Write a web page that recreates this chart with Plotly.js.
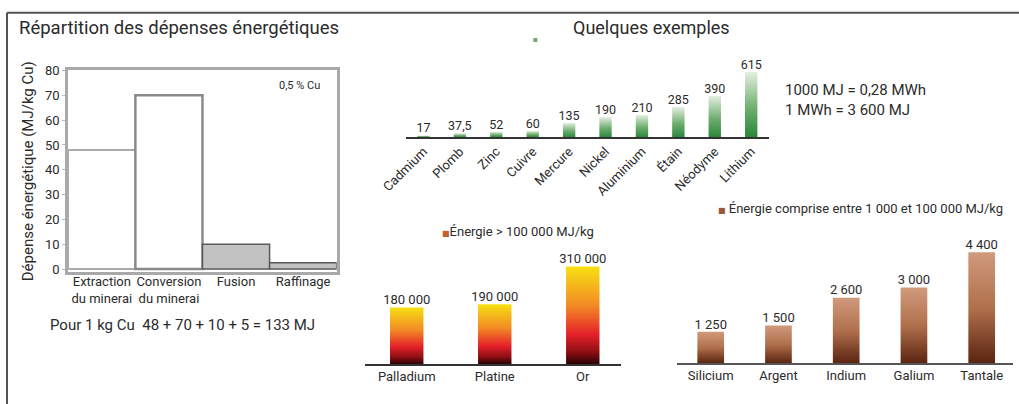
<!DOCTYPE html>
<html>
<head>
<meta charset="utf-8">
<script src="https://cdn.plot.ly/plotly-3.0.1.min.js"></script>
<style>
html,body{margin:0;padding:0;background:#fff;}
#chart{width:1019px;height:404px;}
</style>
</head>
<body>
<div id="chart"></div>
<script>
// ---- Data ----
var stepCategories = ['Extraction<br>du minerai', 'Conversion<br>du minerai', 'Fusion', 'Raffinage'];
var stepValues = [48, 70, 10, 2.5];
var stepTicks = [0, 10, 20, 30, 40, 50, 60, 70, 80];

var commonMetals = ['Cadmium', 'Plomb', 'Zinc', 'Cuivre', 'Mercure', 'Nickel', 'Aluminium', 'Étain', 'Néodyme', 'Lithium'];
var commonValues = [17, 37.5, 52, 60, 135, 190, 210, 285, 390, 615];

var preciousMetals = ['Palladium', 'Platine', 'Or'];
var preciousValues = [180000, 190000, 310000];

var rareMetals = ['Silicium', 'Argent', 'Indium', 'Galium', 'Tantale'];
var rareValues = [1250, 1500, 2600, 3000, 4400];

// ---- Helpers ----
var FONT = 'Roboto, "DejaVu Sans", sans-serif';
var TXT = '#2b2b2b';
function fr(v) {
  var p = String(v).split('.');
  var i = p[0].replace(/\B(?=(\d{3})+(?!\d))/g, ' ');
  return i + (p[1] ? ',' + p[1] : '');
}
function idx(arr) { return arr.map(function (_, i) { return i; }); }

var traces = [];

// Left chart: step bars
traces.push({
  type: 'bar', x: idx(stepCategories), y: stepValues, width: 1,
  xaxis: 'x', yaxis: 'y', hoverinfo: 'skip', showlegend: false,
  marker: {
    color: ['#ffffff', '#ffffff', '#c2c2c2', '#c2c2c2'],
    line: { color: ['#8f8f8f', '#8a8a8a', '#5a5a5a', '#5a5a5a'], width: [1.5, 2.5, 1.5, 1.5] }
  }
});

// Gradient bars built from the data through the axes
function gradientBars(cats, vals, xa, ya, hw, scale, textSize) {
  cats.forEach(function (c, i) {
    var v = vals[i];
    traces.push({
      type: 'scatter', mode: 'lines', xaxis: xa, yaxis: ya,
      x: [i - hw, i - hw, i + hw, i + hw, i - hw],
      y: [0, v, v, 0, 0],
      fill: 'toself', line: { width: 0 },
      fillgradient: { type: 'vertical', colorscale: scale },
      hoverinfo: 'skip', showlegend: false
    });
  });
  traces.push({
    type: 'scatter', mode: 'text', xaxis: xa, yaxis: ya,
    x: idx(cats), y: vals, text: vals.map(fr), textposition: 'top center',
    textfont: { family: FONT, size: textSize, color: TXT },
    cliponaxis: false, hoverinfo: 'skip', showlegend: false
  });
}

gradientBars(commonMetals, commonValues, 'x2', 'y2', 0.17,
  [[0, '#2a873a'], [0.45, '#6fae6f'], [1, '#e4efe1']], 12.5);
gradientBars(preciousMetals, preciousValues, 'x3', 'y3', 0.19,
  [[0, '#2a0306'], [0.12, '#8c0e12'], [0.3, '#e4202a'], [0.6, '#f38a25'], [1, '#f6e012']], 13);
gradientBars(rareMetals, rareValues, 'x4', 'y4', 0.197,
  [[0, '#5a2410'], [0.5, '#b0704c'], [1, '#d09a7c']], 13);

var tickFont = { family: FONT, size: 13, color: TXT };

var layout = {
  width: 1019, height: 404,
  margin: { l: 0, r: 0, t: 0, b: 0 },
  paper_bgcolor: '#ffffff', plot_bgcolor: 'rgba(0,0,0,0)',
  showlegend: false,
  font: { family: FONT, color: TXT },
  bargap: 0,
  // Left chart
  xaxis: {
    domain: [0.0670, 0.3304], range: [-0.5, 3.5], anchor: 'y',
    tickvals: idx(stepCategories), ticktext: stepCategories, ticks: '', ticklabelstandoff: -5,
    showline: true, mirror: true, linecolor: '#a9a9a9', linewidth: 3,
    showgrid: false, zeroline: false, tickfont: tickFont, fixedrange: true
  },
  yaxis: {
    domain: [0.3267, 0.8255], range: [-1.2, 80], anchor: 'x',
    tickvals: stepTicks, ticks: 'outside', ticklen: 3, tickcolor: '#bbbbbb',
    showline: true, mirror: true, linecolor: '#a9a9a9', linewidth: 3,
    showgrid: false, zeroline: false, tickfont: tickFont, fixedrange: true,
    title: { text: 'Dépense énergétique (MJ/kg Cu)', font: { family: FONT, size: 15, color: TXT }, standoff: 8 }
  },
  // Green chart
  xaxis2: {
    domain: [0.3984, 0.7547], range: [-0.48, 9.49], anchor: 'y2',
    tickvals: idx(commonMetals), ticktext: commonMetals, tickangle: -45, ticks: '',
    showline: true, linecolor: '#333333', linewidth: 1.5,
    showgrid: false, zeroline: false, tickfont: { family: FONT, size: 13, color: TXT }, fixedrange: true
  },
  yaxis2: {
    domain: [0.6601, 0.8441], range: [0, 700], anchor: 'x2',
    visible: false, fixedrange: true
  },
  // Orange chart
  xaxis3: {
    domain: [0.3582, 0.6094], range: [-0.474, 2.434], anchor: 'y3',
    tickvals: idx(preciousMetals), ticktext: preciousMetals, ticks: '',
    showline: true, linecolor: '#333333', linewidth: 1.5,
    showgrid: false, zeroline: false, tickfont: tickFont, fixedrange: true
  },
  yaxis3: {
    domain: [0.0990, 0.3713], range: [0, 350000], anchor: 'x3',
    visible: false, fixedrange: true
  },
  // Brown chart
  xaxis4: {
    domain: [0.6641, 0.9941], range: [-0.502, 4.462], anchor: 'y4',
    tickvals: idx(rareMetals), ticktext: rareMetals, ticks: '',
    showline: true, linecolor: '#555555', linewidth: 1.5,
    showgrid: false, zeroline: false, tickfont: tickFont, fixedrange: true
  },
  yaxis4: {
    domain: [0.1007, 0.4005], range: [0, 4800], anchor: 'x4',
    visible: false, fixedrange: true
  },
  shapes: [
    { type: 'line', xref: 'paper', yref: 'paper', x0: 0.00687, x1: 1, y0: 0.9686, y1: 0.9686, line: { color: '#555555', width: 2 } },
    { type: 'line', xref: 'paper', yref: 'paper', x0: 0.00687, x1: 0.00687, y0: 0, y1: 0.9686, line: { color: '#555555', width: 2 } },
    { type: 'rect', xref: 'paper', yref: 'paper', x0: 0.5234, x1: 0.5273, y0: 0.896, y1: 0.906, line: { width: 0 }, fillcolor: '#7aa47a' }
  ],
  annotations: [
    { xref: 'paper', yref: 'paper', x: 0.0167, y: 0.9307, xanchor: 'left', yanchor: 'middle', showarrow: false,
      text: 'Répartition des dépenses énergétiques', font: { family: FONT, size: 18.5, color: TXT } },
    { xref: 'paper', yref: 'paper', x: 0.6398, y: 0.9320, xanchor: 'center', yanchor: 'middle', showarrow: false,
      text: 'Quelques exemples', font: { family: FONT, size: 18, color: TXT } },
    { xref: 'paper', yref: 'paper', x: 0.2944, y: 0.7896, xanchor: 'center', yanchor: 'middle', showarrow: false,
      text: '0,5 % Cu', font: { family: FONT, size: 11, color: TXT } },
    { xref: 'paper', yref: 'paper', x: 0.0471, y: 0.1955, xanchor: 'left', yanchor: 'middle', showarrow: false,
      text: 'Pour 1 kg Cu \u00a048 + 70 + 10 + 5 = 133 MJ', font: { family: FONT, size: 15, color: TXT } },
    { xref: 'paper', yref: 'paper', x: 0.7681, y: 0.7525, xanchor: 'left', yanchor: 'middle', showarrow: false, align: 'left',
      text: '1000 MJ = 0,28 MWh<br>1 MWh = 3 600 MJ', font: { family: FONT, size: 15, color: TXT } },
    { xref: 'paper', yref: 'paper', x: 0.4318, y: 0.4282, xanchor: 'left', yanchor: 'middle', showarrow: false,
      text: '<span style="color:#c0602a;font-size:8px">■</span>Énergie > 100 000 MJ/kg', font: { family: FONT, size: 13, color: TXT } },
    { xref: 'paper', yref: 'paper', x: 0.7026, y: 0.4851, xanchor: 'left', yanchor: 'middle', showarrow: false,
      text: '<span style="color:#9a5a3a;font-size:8px">■</span> Énergie comprise entre 1 000 et 100 000 MJ/kg', font: { family: FONT, size: 13, color: TXT } }
  ]
};

Plotly.newPlot('chart', traces, layout, { staticPlot: true, displayModeBar: false });
</script>
</body>
</html>
